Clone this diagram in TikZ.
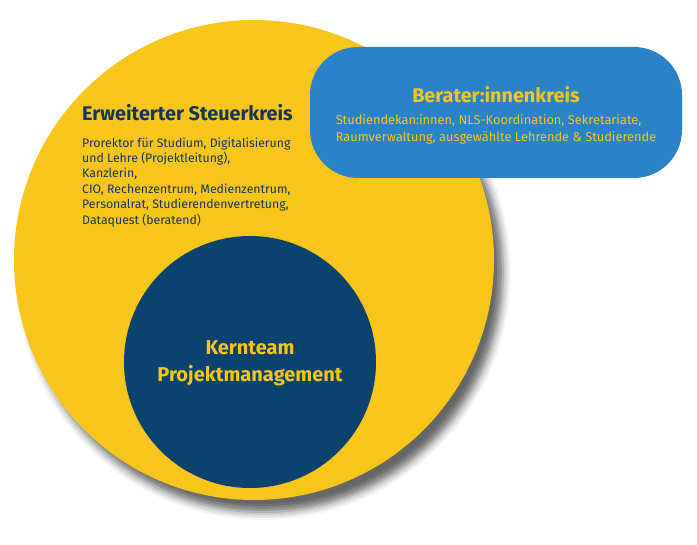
\documentclass[tikz,border=0pt]{standalone}
\usepackage{fontspec}
\setmainfont{Fira Sans}
\usetikzlibrary{positioning,shadows.blur}
\definecolor{kreisgelb}{HTML}{F8C51B}
\definecolor{beraterblau}{HTML}{2983C6}
\definecolor{kernblau}{HTML}{0B426E}
\definecolor{textblau}{HTML}{12375E}
\tikzset{
    outer circle/.style={circle,fill=kreisgelb,minimum size=480pt,inner sep=0pt,
        blur shadow={shadow xshift=9pt,shadow yshift=-12pt,shadow blur radius=8pt,shadow opacity=60}},
    core circle/.style={circle,fill=kernblau,minimum size=252pt,inner sep=0pt},
    advisor box/.style={rounded corners=48pt,fill=beraterblau,minimum width=372pt,minimum height=131pt,inner sep=0pt},
    title text/.style={font=\fontsize{19.8}{22}\selectfont\bfseries,inner sep=0pt},
    body text/.style={font=\fontsize{12.3}{15.4}\selectfont,inner sep=0pt,align=left},
    core text/.style={font=\fontsize{20}{27}\selectfont\bfseries,inner sep=0pt,align=center,text=kreisgelb},
}
\begin{document}
\begin{tikzpicture}[x=1pt,y=-1pt]
    \useasboundingbox (0,0) rectangle (697,545);
    \node[outer circle] (steuerkreis) at (254,260) {};
    \node[core circle] (kernteam) at (250,362) {};
    \node[advisor box] (beraterkreis) at (496,112.5) {};

    \node[title text,text=textblau,anchor=west] (steuertitel) at (82,113) {Erweiterter Steuerkreis};
    \node[body text,text=textblau,below right=16pt and 0pt of steuertitel.south west] (steuerliste)
        {Prorektor für Studium, Digitalisierung\\und Lehre (Projektleitung),\\Kanzlerin,\\CIO, Rechenzentrum, Medienzentrum,\\Personalrat, Studierendenvertretung,\\Dataquest (beratend)};

    \node[title text,text=kreisgelb] (beratertitel) at (496,95) {Berater:innenkreis};
    \node[body text,text=kreisgelb,font=\fontsize{12.8}{16.7}\selectfont,below=11pt of beratertitel] (beraterliste)
        {Studiendekan:innen, NLS-Koordination, Sekretariate,\\Raumverwaltung, ausgewählte Lehrende \& Studierende};

    \node[core text] (kerntext) at (250,363.5) {Kernteam\\Projektmanagement};
\end{tikzpicture}
\end{document}
